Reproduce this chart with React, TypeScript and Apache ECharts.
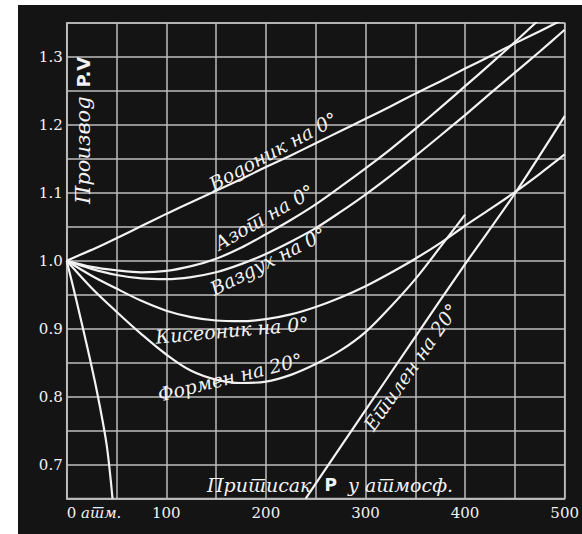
import React, { useEffect, useRef } from "react";
import * as echarts from "echarts";

// Pressure (atm) for the 0° gases
const PRESSURE = [0, 25, 50, 75, 100, 125, 150, 175, 200, 225, 250, 275, 300, 325, 350, 375, 400, 425, 450, 475, 500];
// Product P·V (relative)
const HYDROGEN = [1.0, 1.016, 1.033, 1.051, 1.069, 1.086, 1.103, 1.12, 1.138, 1.155, 1.173, 1.191, 1.209, 1.227, 1.246, 1.264, 1.283, 1.301, 1.32, 1.338, 1.3565];
const NITROGEN = [1.0, 0.991, 0.986, 0.983, 0.985, 0.992, 1.003, 1.019, 1.039, 1.06, 1.083, 1.109, 1.136, 1.164, 1.194, 1.225, 1.257, 1.289, 1.322, 1.356, 1.39];
const AIR = [1.0, 0.988, 0.979, 0.974, 0.973, 0.976, 0.983, 0.995, 1.01, 1.028, 1.048, 1.072, 1.0975, 1.125, 1.154, 1.184, 1.2145, 1.246, 1.277, 1.308, 1.34];
const OXYGEN = [1.0, 0.978, 0.959, 0.941, 0.9265, 0.917, 0.912, 0.911, 0.914, 0.921, 0.932, 0.946, 0.9625, 0.982, 1.003, 1.026, 1.0515, 1.076, 1.101, 1.128, 1.1565];

// Methane (формен) at 20°
const METHANE_P = [0, 25, 50, 75, 100, 125, 150, 175, 200, 225, 250, 275, 300, 325, 350, 375, 400];
const METHANE = [1.0, 0.96, 0.925, 0.892, 0.862, 0.838, 0.825, 0.82, 0.822, 0.832, 0.848, 0.868, 0.895, 0.932, 0.973, 1.02, 1.068];

// Ethylene at 20° (leaves the chart below 0.65 between the two parts)
const ETHYLENE_LOW_P = [0, 10, 20, 30, 40, 46];
const ETHYLENE_LOW = [1.0, 0.94, 0.877, 0.81, 0.73, 0.65];
const ETHYLENE_HIGH_P = [240, 250, 300, 350, 400, 450, 500];
const ETHYLENE_HIGH = [0.65, 0.672, 0.78, 0.888, 0.995, 1.099, 1.213];

const Y_LABEL_VALUES = ["0.7", "0.8", "0.9", "1.0", "1.1", "1.2", "1.3"];
const X_LABEL_VALUES = ["0", "100", "200", "300", "400", "500"];

const zip = (xs: number[], ys: number[]) => xs.map((x, i) => [x, ys[i]]);

const BG = "#141414";
const GRID = "#bdbdbd";
const INK = "#f2f2f2";
const ITALIC = 'italic 19px "DejaVu Serif"';

export default function App() {
  const ref = useRef<HTMLDivElement>(null);

  useEffect(() => {
    const chart = echarts.init(ref.current!, null, { renderer: "svg" });
    const lineStyle = { color: INK, width: 2.2 };
    const mk = (name: string, data: any[], smooth: number) => ({
      name,
      type: "line",
      data,
      showSymbol: false,
      symbol: "none",
      smooth,
      lineStyle,
      clip: true,
      connectNulls: false,
    });
    const ethylene = [
      ...zip(ETHYLENE_LOW_P, ETHYLENE_LOW),
      "-",
      ...zip(ETHYLENE_HIGH_P, ETHYLENE_HIGH),
    ];

    const label = (text: string, x: number, y: number, deg: number) => ({
      type: "text",
      x,
      y,
      rotation: (deg * Math.PI) / 180,
      style: {
        text,
        fill: INK,
        font: ITALIC,
        align: "center",
        verticalAlign: "middle",
      },
      z: 100,
    });

    chart.setOption({
      animation: false,
      backgroundColor: BG,
      grid: {
        left: 48.7,
        right: 13,
        top: 18,
        bottom: 35.5,
        show: true,
        borderColor: GRID,
        borderWidth: 1.5,
      },
      xAxis: {
        type: "value",
        min: 0,
        max: 500,
        interval: 50,
        axisLine: { show: true, lineStyle: { color: GRID, width: 1.5 } },
        axisTick: { show: false },
        splitLine: { show: true, lineStyle: { color: GRID, width: 1.5 } },
        axisLabel: {
          margin: 7,
          color: INK,
          fontFamily: "DejaVu Serif",
          fontSize: 15,
          alignMinLabel: "left",
          formatter: (v: number) => {
            const s = String(Math.round(v));
            if (!X_LABEL_VALUES.includes(s)) return "";
            return s === "0" ? "{n|0} {i|атм.}" : s;
          },
          rich: {
            n: { fontFamily: "DejaVu Serif", fontSize: 15, color: INK },
            i: { fontFamily: "DejaVu Serif", fontStyle: "italic", fontSize: 15, color: INK },
          },
        },
      },
      yAxis: {
        type: "value",
        min: 0.65,
        max: 1.35,
        interval: 0.05,
        axisLine: { show: true, lineStyle: { color: GRID, width: 1.5 } },
        axisTick: { show: false },
        splitLine: { show: true, lineStyle: { color: GRID, width: 1.5 } },
        axisLabel: {
          margin: 4,
          color: INK,
          fontFamily: "DejaVu Serif",
          fontSize: 15,
          formatter: (v: number) => {
            const t = (Math.round(v * 10) / 10).toFixed(1);
            return Math.abs(v - parseFloat(t)) < 1e-6 && Y_LABEL_VALUES.includes(t) ? t : "";
          },
        },
      },
      series: [
        mk("Водоник на 0°", zip(PRESSURE, HYDROGEN), 0.2),
        mk("Азот на 0°", zip(PRESSURE, NITROGEN), 0.3),
        mk("Ваздух на 0°", zip(PRESSURE, AIR), 0.3),
        mk("Кисеоник на 0°", zip(PRESSURE, OXYGEN), 0.3),
        mk("Формен на 20°", zip(METHANE_P, METHANE), 0.35),
        mk("Етилен на 20°", ethylene, 0.3),
      ],
      graphic: [
        label("Водоник на 0°", 255, 146, 28.5),
        label("Азот на 0°", 246, 212, 30),
        label("Ваздух на 0°", 250, 256, 27),
        label("Кисеоник на 0°", 214, 325, 5),
        label("Формен на 20°", 212, 372, 14),
        label("Етилен на 20°", 393, 362, 55),
        {
          type: "text",
          x: 312,
          y: 480,
          z: 100,
          style: {
            text: "{i|Притисак}{b|P}{i|у атмосф.}",
            align: "center",
            verticalAlign: "middle",
            rich: {
              i: { font: ITALIC, fill: INK },
              b: { font: 'bold 17px "DejaVu Sans"', fill: INK, padding: [0, 11, 0, 13] },
            },
          },
        },
        {
          type: "text",
          x: 65,
          y: 199,
          z: 100,
          rotation: Math.PI / 2,
          style: {
            text: "{i|Производ}{b|P.V}",
            align: "left",
            verticalAlign: "middle",
            rich: {
              i: { font: 'italic 21px "DejaVu Serif"', fill: INK },
              b: { font: 'bold 18px "DejaVu Sans"', fill: INK, padding: [0, 0, 0, 9] },
            },
          },
        },
      ],
    });
    return () => chart.dispose();
  }, []);

  return (
    <div
      lang="sr"
      style={{ position: "absolute", left: 0, top: 0, width: 582, height: 534, background: "#ffffff", overflow: "hidden" }}
    >
      <div ref={ref} style={{ position: "absolute", left: 18, top: 5, width: 564, height: 529 }} />
    </div>
  );
}
